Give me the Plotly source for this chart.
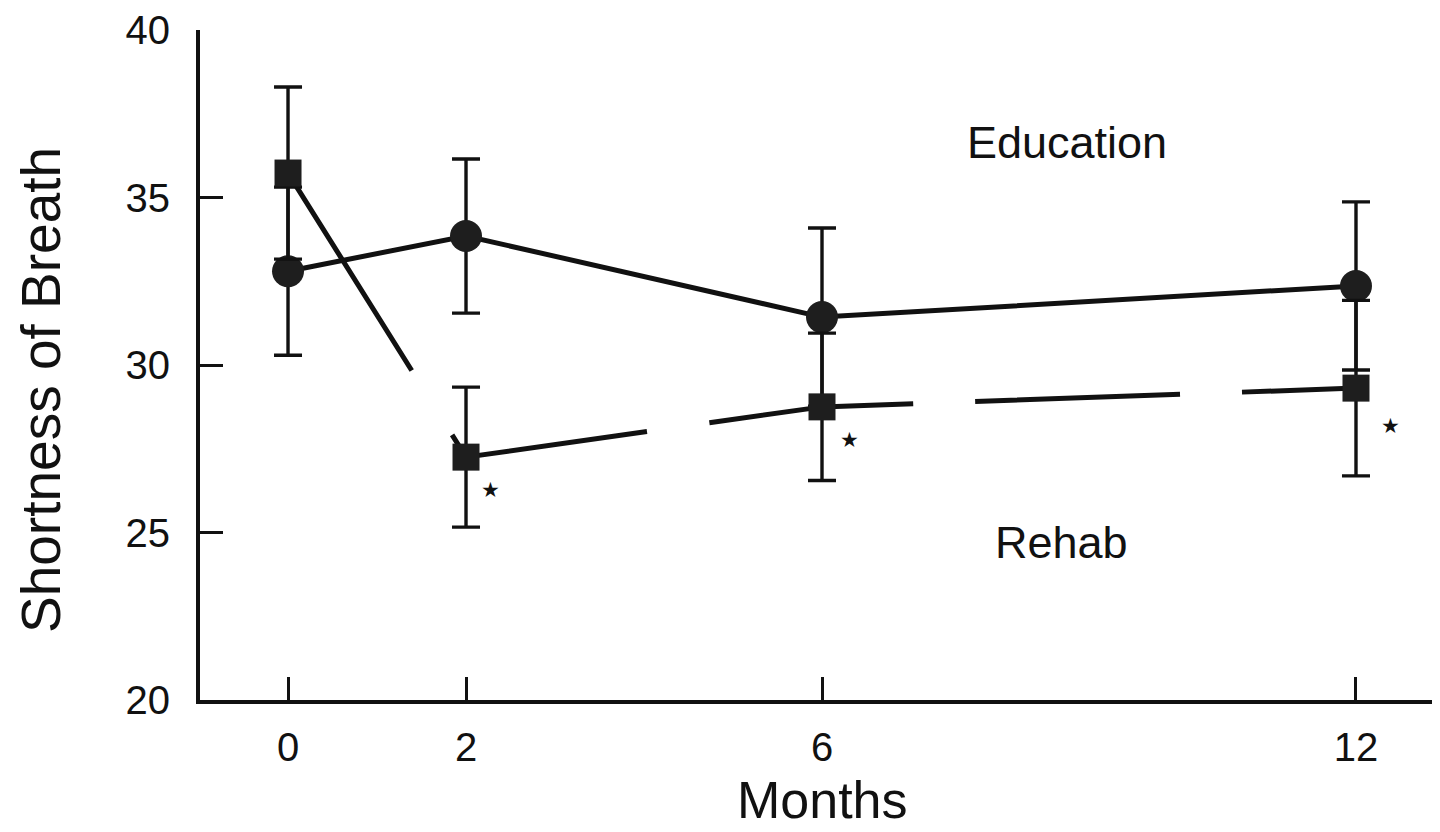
import plotly.graph_objects as go

# ---- data ----
months = [0, 2, 6, 12]
month_ticks = ["0", "2", "6", "12"]

education_mean = [32.8, 33.85, 31.43, 32.36]
education_se = [2.51, 2.3, 2.66, 2.51]

rehab_mean = [35.73, 27.25, 28.75, 29.31]
rehab_se = [2.57, 2.09, 2.2, 2.62]

y_ticks = [20, 25, 30, 35, 40]
significant_months = [2, 6, 12]   # rehab points flagged with *

FONT = "Liberation Sans, Arial, sans-serif"
INK = "#111111"

fig = go.Figure()

fig.add_trace(go.Scatter(
    x=months, y=education_mean, mode="lines+markers", name="Education",
    line=dict(color=INK, width=5),
    marker=dict(symbol="circle", size=32, color="#1e1e1e", line=dict(width=0)),
    error_y=dict(type="data", array=education_se, visible=True,
                 color=INK, thickness=3.4, width=14),
))

fig.add_trace(go.Scatter(
    x=months, y=rehab_mean, mode="lines+markers", name="Rehab",
    line=dict(color=INK, width=5,
              dash="233px,76px,209px,63px,205px,62px,205px,62px,400px"),
    marker=dict(symbol="square", size=27, color="#1e1e1e", line=dict(width=0)),
    error_y=dict(type="data", array=rehab_se, visible=True,
                 color=INK, thickness=3.4, width=14),
))

annotations = [
    dict(x=8.75, y=36.65, xref="x", yref="y", text="Education", showarrow=False,
         font=dict(family=FONT, size=45, color=INK), xanchor="center", yanchor="middle"),
    dict(x=8.69, y=24.69, xref="x", yref="y", text="Rehab", showarrow=False,
         font=dict(family=FONT, size=45, color=INK), xanchor="center", yanchor="middle"),
    dict(x=0, y=0.4627, xref="paper", yref="paper", text="Shortness of Breath",
         showarrow=False, textangle=-90, xshift=-159,
         font=dict(family=FONT, size=55, color=INK), xanchor="center", yanchor="middle"),
    dict(x=6, y=-0.149, xref="x", yref="paper", text="Months", showarrow=False,
         font=dict(family=FONT, size=52, color=INK), xanchor="center", yanchor="middle"),
]

shifts = {2: (24, -33), 6: (27, -33), 12: (35, -38)}
for m in significant_months:
    i = months.index(m)
    dx, dy = shifts[m]
    annotations.append(dict(
        x=m, y=rehab_mean[i], xref="x", yref="y", text="★", showarrow=False,
        xshift=dx, yshift=dy, font=dict(family="DejaVu Sans", size=21, color=INK),
        xanchor="center", yanchor="middle"))

# page body has an 8px margin, so the figure is 8px smaller on each axis
fig.update_layout(
    width=1432, height=824,
    margin=dict(l=192, r=0, t=22, b=132, pad=0),
    paper_bgcolor="white", plot_bgcolor="white",
    showlegend=False,
    annotations=annotations,
    font=dict(family=FONT, color=INK),
)

fig.update_xaxes(
    range=[-0.989, 12.944], tickvals=months, ticktext=month_ticks,
    showgrid=False, zeroline=False,
    showline=True, linecolor=INK, linewidth=3.8,
    ticks="inside", ticklen=23, tickwidth=3, tickcolor=INK,
    tickfont=dict(family=FONT, size=40, color=INK),
    ticklabelstandoff=9,
)
fig.update_yaxes(
    range=[20, 40], tickvals=y_ticks,
    showgrid=False, zeroline=False,
    showline=True, linecolor=INK, linewidth=3.8,
    ticks="inside", ticklen=23, tickwidth=3, tickcolor=INK,
    tickfont=dict(family=FONT, size=40, color=INK),
    ticklabelstandoff=18,
)

fig.write_html("out.html")
